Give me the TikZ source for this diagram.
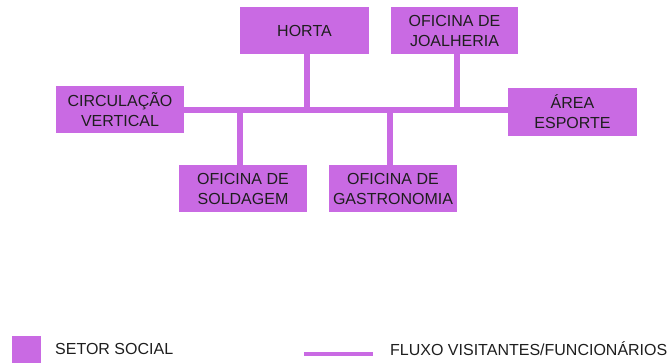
\documentclass[tikz,border=0pt]{standalone}
\usepackage{fontspec}
\setmainfont{Liberation Sans}
\definecolor{lilac}{HTML}{C96AE3}
\definecolor{ink}{HTML}{1E1E1E}
\tikzset{
  sector/.style={fill=lilac, draw=none, inner sep=0pt, align=center, text=ink,
    font=\fontsize{16}{20}\selectfont},
  flow/.style={draw=lilac, line width=5.5pt},
  legtext/.style={anchor=base west, inner sep=0pt, text=ink, font=\fontsize{16}{20}\selectfont}
}
\begin{document}
\begin{tikzpicture}[x=1pt, y=-1pt]
\useasboundingbox (0,0) rectangle (669,362);
% sectors
\node[sector, minimum width=129pt, minimum height=47pt] (horta) at (304.5,30.5) {HORTA};
\node[sector, minimum width=127pt, minimum height=47pt] (joal) at (454.5,30.5) {OFICINA DE\\JOALHERIA};
\node[sector, minimum width=128pt, minimum height=47pt] (circ) at (120,109.5) {CIRCULAÇÃO\\VERTICAL};
\node[sector, minimum width=129pt, minimum height=48pt] (area) at (572.5,112) {ÁREA\\ESPORTE};
\node[sector, minimum width=128pt, minimum height=47pt] (sold) at (243,188.5) {OFICINA DE\\SOLDAGEM};
\node[sector, minimum width=128pt, minimum height=47pt] (gast) at (393,188.5) {OFICINA DE\\GASTRONOMIA};
% bus junctions
\coordinate (bh) at (307,110);
\coordinate (bj) at (457,110);
\coordinate (bs) at (240,110);
\coordinate (bg) at (390,110);
% flows
\draw[flow] (circ.east |- bh) -- (area.west |- bh);
\draw[flow] (bh) -- (bh |- horta.south);
\draw[flow] (bj) -- (bj |- joal.south);
\draw[flow] (bs) -- (bs |- sold.north);
\draw[flow] (bg) -- (bg |- gast.north);
% legend
\node[fill=lilac, inner sep=0pt, minimum width=29pt, minimum height=28pt] (legsq) at (26.5,350) {};
\node[legtext] (legsqt) at (55,354) {SETOR SOCIAL};
\coordinate (ll1) at (304,353.5);
\coordinate (ll2) at (373,353.5);
\draw[draw=lilac, line width=4pt] (ll1) -- (ll2);
\node[legtext] (leglt) at (390,355) {FLUXO VISITANTES/FUNCIONÁRIOS};
\end{tikzpicture}
\end{document}
